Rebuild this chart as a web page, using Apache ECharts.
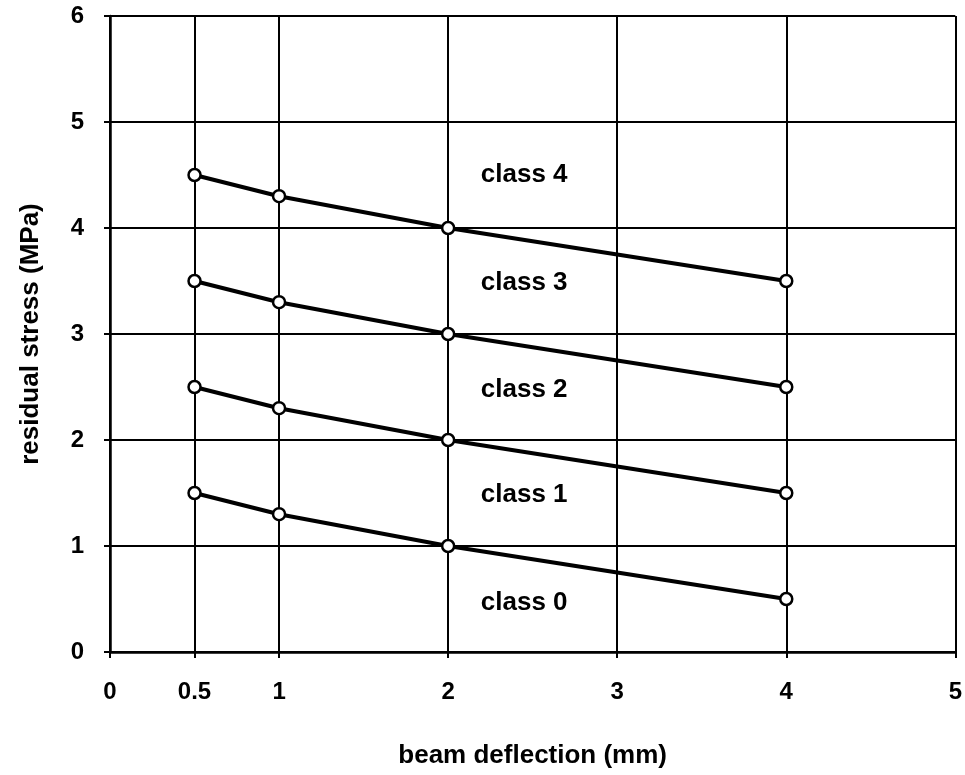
<!DOCTYPE html>
<html>
<head>
<meta charset="utf-8">
<script src="https://cdn.jsdelivr.net/npm/echarts@6/dist/echarts.min.js"></script>
<style>html,body{margin:0;padding:0;background:#fff;}#c{width:965px;height:775px;}</style>
</head>
<body>
<div id="c"></div>
<script>
var xTicks = [0, 0.5, 1, 2, 3, 4, 5];
var deflection = [0.5, 1, 2, 4];
var class1Lower = [1.5, 1.3, 1.0, 0.5];
var class2Lower = [2.5, 2.3, 2.0, 1.5];
var class3Lower = [3.5, 3.3, 3.0, 2.5];
var class4Lower = [4.5, 4.3, 4.0, 3.5];
var classNames = ['class 0', 'class 1', 'class 2', 'class 3', 'class 4'];
var classLabelX = [2.45, 2.45, 2.45, 2.45, 2.45];
var classLabelY = [0.46, 1.48, 2.47, 3.48, 4.5];

var FONT = 'Liberation Sans';
function lineSeries(vals) {
  return {
    type: 'line',
    data: deflection.map(function (x, i) { return [x, vals[i]]; }),
    symbol: 'circle',
    symbolSize: 12,
    lineStyle: { color: '#000', width: 4 },
    itemStyle: { color: '#fff', borderColor: '#000', borderWidth: 2.5 },
    z: 5,
    silent: true
  };
}
var chart = echarts.init(document.getElementById('c'));
chart.setOption({
  animation: false,
  backgroundColor: '#fff',
  grid: { left: 110, right: 8, top: 16, bottom: 123 },
  xAxis: {
    type: 'value', min: 0, max: 5,
    name: 'beam deflection (mm)', nameLocation: 'middle', nameGap: 91,
    nameTextStyle: { fontFamily: FONT, fontSize: 26, color: '#000', fontWeight: 'bold' },
    axisLine: { show: true, onZero: false, lineStyle: { color: '#000', width: 2.5 } },
    axisTick: { show: true, customValues: xTicks, length: 6, lineStyle: { color: '#000', width: 2 } },
    axisLabel: { customValues: xTicks, margin: 28, fontFamily: FONT, fontSize: 24, color: '#000', fontWeight: 'bold' },
    splitLine: { show: true, lineStyle: { color: '#000', width: 2 } }
  },
  yAxis: {
    type: 'value', min: 0, max: 6, interval: 1,
    name: 'residual stress (MPa)', nameLocation: 'middle', nameGap: 66,
    nameTextStyle: { fontFamily: FONT, fontSize: 26, color: '#000', fontWeight: 'bold' },
    axisLine: { show: true, lineStyle: { color: '#000', width: 2.5 } },
    axisTick: { show: true, length: 6, lineStyle: { color: '#000', width: 2 } },
    axisLabel: { margin: 26, fontFamily: FONT, fontSize: 24, color: '#000', fontWeight: 'bold' },
    splitLine: { show: true, lineStyle: { color: '#000', width: 2 } }
  },
  series: [
    lineSeries(class1Lower),
    lineSeries(class2Lower),
    lineSeries(class3Lower),
    lineSeries(class4Lower),
    {
      type: 'scatter',
      symbol: 'circle',
      symbolSize: 1,
      itemStyle: { color: '#fff' },
      silent: true,
      data: classNames.map(function (n, i) { return { value: [classLabelX[i], classLabelY[i]], name: n }; }),
      label: {
        show: true, position: 'inside', formatter: '{b}',
        fontFamily: FONT, fontSize: 26, color: '#000', fontWeight: 'bold',
        textBorderWidth: 0, opacity: 1
      },
      z: 6
    }
  ]
});
</script>
</body>
</html>
